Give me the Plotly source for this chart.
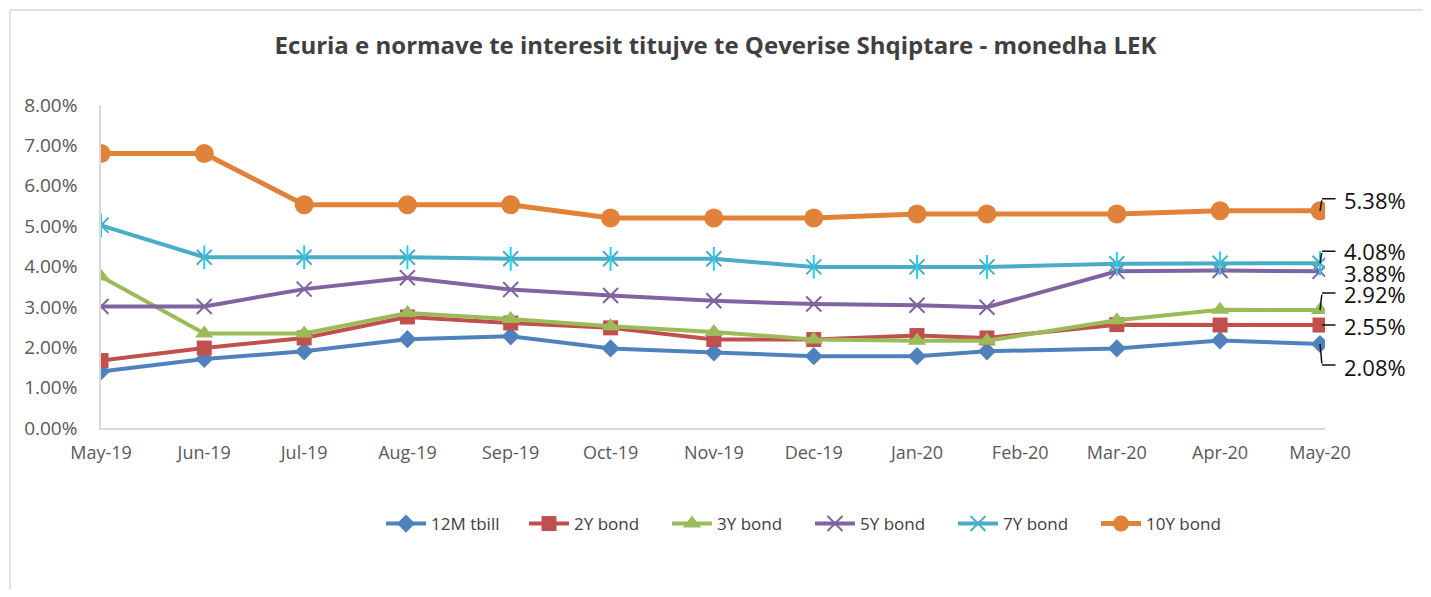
import plotly.graph_objects as go

# ---- data ----
dates = ["2019-05-01", "2019-06-01", "2019-07-01", "2019-08-01", "2019-09-01",
         "2019-10-01", "2019-11-01", "2019-12-01", "2020-01-01", "2020-01-22",
         "2020-03-01", "2020-04-01", "2020-05-01"]
series_names = ["12M tbill", "2Y bond", "3Y bond", "5Y bond", "7Y bond", "10Y bond"]
tbill_12m = [1.40, 1.71, 1.90, 2.20, 2.27, 1.97, 1.87, 1.78, 1.78, 1.90, 1.97, 2.17, 2.08]
bond_2y = [1.67, 1.98, 2.23, 2.75, 2.60, 2.48, 2.19, 2.19, 2.29, 2.23, 2.56, 2.55, 2.55]
bond_3y = [3.75, 2.34, 2.34, 2.85, 2.70, 2.52, 2.38, 2.19, 2.16, 2.16, 2.67, 2.93, 2.92]
bond_5y = [3.01, 3.01, 3.44, 3.72, 3.43, 3.28, 3.15, 3.07, 3.04, 2.99, 3.88, 3.90, 3.88]
bond_7y = [5.02, 4.23, 4.23, 4.23, 4.19, 4.19, 4.19, 3.99, 3.99, 3.99, 4.07, 4.08, 4.08]
bond_10y = [6.80, 6.80, 5.53, 5.53, 5.53, 5.20, 5.20, 5.20, 5.30, 5.30, 5.30, 5.38, 5.38]
y_ticks = [0, 1, 2, 3, 4, 5, 6, 7, 8]
title_text = "Ecuria e normave te interesit titujve te Qeverise Shqiptare - monedha LEK"

# ---- styles ----
OFF = 8                      # page body margin
W, H = 1431 - 2 * OFF, 597 - 2 * OFF
ML = 101 - OFF
MT = 105 - OFF
MR = W - (1325 - OFF)
MB = H - (428 - OFF)
colors = ["#4F81BD", "#C0504D", "#9BBB59", "#8064A2", "#4BACC6", "#E0823A"]
values = [tbill_12m, bond_2y, bond_3y, bond_5y, bond_7y, bond_10y]
markers = [
    dict(symbol="diamond", size=14),
    dict(symbol="square", size=15),
    dict(symbol="triangle-up", size=16),
    dict(symbol="x-thin-open", size=15, line=dict(width=2)),
    dict(symbol="x-thin-open", size=15, line=dict(width=2)),
    dict(symbol="circle", size=19),
]
line_widths = [4, 4, 4, 4, 4, 5]

fig = go.Figure()
for i, (name, vals) in enumerate(zip(series_names, values)):
    m = dict(markers[i])
    m["color"] = colors[i]
    if "line" in m:
        m["line"] = dict(m["line"], color=colors[i])
    fig.add_trace(go.Scatter(x=dates, y=vals, name=name, mode="lines+markers",
                             line=dict(color=colors[i], width=line_widths[i]),
                             marker=m))
    if name == "7Y bond":
        fig.add_trace(go.Scatter(x=dates, y=vals, mode="markers", showlegend=False,
                                 hoverinfo="skip",
                                 marker=dict(symbol="line-ns-open", size=17,
                                             line=dict(width=2, color=colors[i]))))

# end-of-series data labels with bent leader lines
label_series = [bond_10y, bond_7y, bond_5y, bond_3y, bond_2y, tbill_12m]
label_yshift = [11, 12, -2, 16, -1, -23]
# leader: (rise of the short diagonal in px, up positive) or None
leader_rise = [12, 12, None, 17, 0, -21]
LINE = dict(arrowcolor="#111111", arrowwidth=1.5, arrowhead=0, showarrow=True,
            standoff=0, startstandoff=0)
for vals, ys, rise in zip(label_series, label_yshift, leader_rise):
    fig.add_annotation(x=dates[-1], y=vals[-1], text=f"{vals[-1]:.2f}%",
                       showarrow=False, xanchor="left", yanchor="middle",
                       xshift=22, yshift=ys,
                       font=dict(family="Open Sans", size=22, color="#111111"))
    if rise is None:
        continue
    if rise != 0:
        # short segment from the point to the elbow
        fig.add_annotation(x=dates[-1], y=vals[-1], text="", ax=2, ay=-rise,
                           axref="pixel", ayref="pixel", **LINE)
    # horizontal segment from the elbow to the label
    fig.add_annotation(x=dates[-1], y=vals[-1], text="", ax=15, ay=0,
                       xshift=2, yshift=rise, **LINE)

# chart border (outer frame)
pw = W - ML - MR
ph = H - MT - MB
bx, by = 10 - OFF, 10 - OFF
fig.add_shape(type="rect", xref="paper", yref="paper", layer="below",
              x0=(bx - ML) / pw, x1=(W + 20 - ML) / pw,
              y0=(H - MB - (H + 20)) / ph, y1=(H - MB - by) / ph,
              line=dict(color="#D9D9D9", width=1.5), fillcolor="rgba(0,0,0,0)")

fig.update_layout(
    width=W, height=H,
    margin=dict(l=ML, r=MR, t=MT, b=MB),
    paper_bgcolor="white", plot_bgcolor="white",
    title=dict(text=f"<b>{title_text}</b>", x=0.5, xanchor="center", xref="container",
               y=1 - (46 - OFF) / H, yanchor="middle", yref="container",
               font=dict(family="Open Sans", size=24, color="#404040")),
    showlegend=True,
    legend=dict(orientation="h", x=0.5 + 97 / pw, xanchor="center",
                y=(H - MB - (524 - OFF)) / ph,
                yanchor="middle", entrywidth=88, entrywidthmode="pixels",
                font=dict(family="Open Sans", size=17, color="#404040"),
                itemwidth=40),
    xaxis=dict(type="date", range=["2019-05-01", "2020-05-02 12:00"],
               tick0="2019-05-01", dtick="M1", tickformat="%b-%y",
               showgrid=False, showline=True, linecolor="#D9D9D9", linewidth=1.5,
               ticks="", ticklabelstandoff=8,
               tickfont=dict(family="Open Sans", size=18, color="#595959"),
               zeroline=False),
    yaxis=dict(range=[0, 8], tickmode="array", tickvals=y_ticks,
               ticktext=[f"{v:.2f}%" for v in y_ticks],
               showgrid=False, showline=True, linecolor="#D9D9D9", linewidth=1.5,
               ticks="", ticklabelstandoff=18, zeroline=False,
               tickfont=dict(family="Open Sans", size=19, color="#595959")),
)

fig.write_html("out.html")
